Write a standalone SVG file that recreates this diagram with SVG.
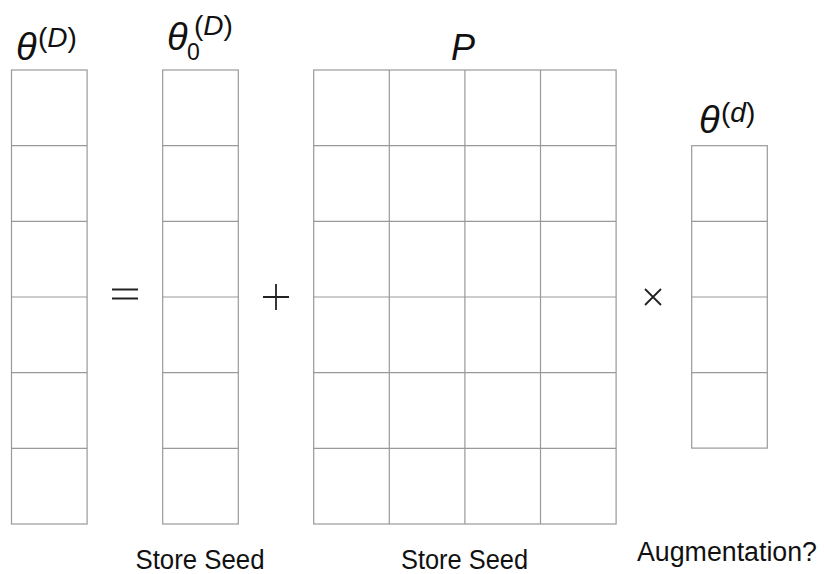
<svg xmlns="http://www.w3.org/2000/svg" width="824" height="574" viewBox="0 0 824 574">
<style>
.c{fill:#fff;stroke:#999;stroke-width:1.2}
.g{stroke:#999;stroke-width:1.2;fill:none}
.m{font-family:"Liberation Sans","DejaVu Sans",sans-serif;font-style:italic;fill:#111}
.u{font-family:"Liberation Sans","DejaVu Sans",sans-serif;fill:#111}
.l{font-family:"Liberation Sans","Open Sans",sans-serif;font-size:27px;fill:#111;text-anchor:middle}
.op{stroke:#222;stroke-width:1.8;fill:none}
</style>
<rect width="824" height="574" fill="#fff"/>
<g id="theta-D">
<rect class="c" x="11.5" y="70" width="75.6" height="454"/>
<path class="g" d="M11.5 145.7H87.1M11.5 221.3H87.1M11.5 297H87.1M11.5 372.7H87.1M11.5 448.3H87.1"/>
<text class="m" x="16" y="60" font-size="38">θ</text>
<text class="u" x="38" y="47" font-size="28">(<tspan font-style="italic">D</tspan>)</text>
</g>
<g id="theta0-D">
<rect class="c" x="162.7" y="70" width="75.6" height="454"/>
<path class="g" d="M162.7 145.7H238.3M162.7 221.3H238.3M162.7 297H238.3M162.7 372.7H238.3M162.7 448.3H238.3"/>
<text class="m" x="167" y="50" font-size="38">θ</text>
<text class="u" x="187" y="60" font-size="23">0</text>
<text class="u" x="194" y="35" font-size="28">(<tspan font-style="italic">D</tspan>)</text>
</g>
<g id="P">
<rect class="c" x="313.7" y="70" width="302.4" height="454"/>
<path class="g" d="M313.7 145.7H616.1M313.7 221.3H616.1M313.7 297H616.1M313.7 372.7H616.1M313.7 448.3H616.1M389.3 70V524M464.9 70V524M540.5 70V524"/>
<text class="m" x="451" y="60" font-size="36">P</text>
</g>
<g id="theta-d">
<rect class="c" x="691.7" y="145.7" width="75.6" height="302.4"/>
<path class="g" d="M691.7 221.3H767.3M691.7 297H767.3M691.7 372.7H767.3"/>
<text class="m" x="699" y="133" font-size="38">θ</text>
<text class="u" x="721" y="122" font-size="28">(<tspan font-style="italic">d</tspan>)</text>
</g>
<g id="operators">
<path class="op" d="M112 289.5H138M112 298.5H138"/>
<path class="op" d="M263 297H289M276 284V310"/>
<path class="op" d="M645 289L661 305M661 289L645 305"/>
</g>
<g id="labels">
<text class="l" x="200" y="569" textLength="129" lengthAdjust="spacingAndGlyphs">Store Seed</text>
<text class="l" x="464.5" y="569" textLength="127" lengthAdjust="spacingAndGlyphs">Store Seed</text>
<text class="l" x="727" y="561" textLength="180" lengthAdjust="spacingAndGlyphs">Augmentation?</text>
</g>
</svg>
